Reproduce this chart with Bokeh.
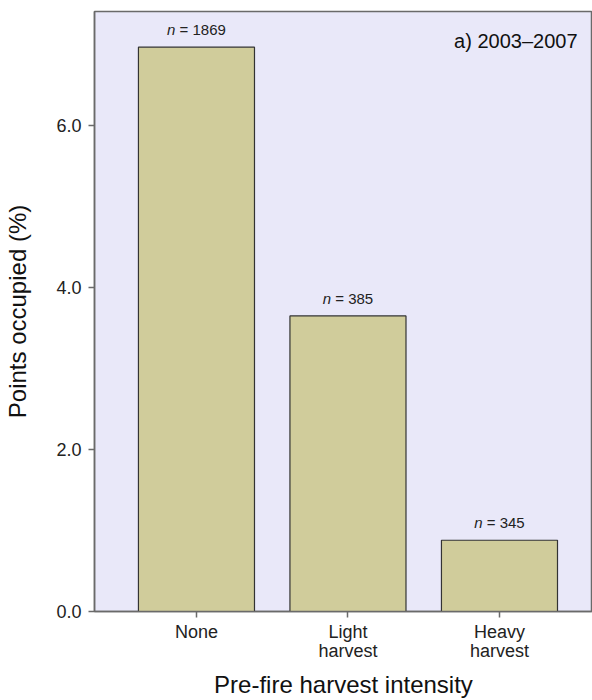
from bokeh.plotting import figure
from bokeh.models import FixedTicker, Label, ColumnDataSource
from bokeh.core.properties import value
from bokeh.embed import file_html
from bokeh.resources import INLINE

# ---- data ----
categories = ["None", "Light\nharvest", "Heavy\nharvest"]
positions = [1, 2, 3]
occupied_pct = [6.97, 3.65, 0.88]
n_points = [1869, 385, 345]
y_ticks = [0, 2, 4, 6]
y_tick_labels = ["0.0", "2.0", "4.0", "6.0"]
panel_label = "a) 2003\u20132007"

FONT = "Liberation Sans"
BG = "#E9E8F9"
BAR = "#D0CC9B"
AX = "#6a6a6a"

# annotation: italic "n" + upright "= N", approximate text widths at 15px
ann_px = 15
NB = "\u00a0"
dig_w, sp_w, eq_w, n_w = 0.556 * ann_px, 0.278 * ann_px, 0.584 * ann_px, 0.556 * ann_px
rest_text = [NB + "=" + NB + str(n) for n in n_points]
split_off = []
for n in n_points:
    rest_w = sp_w + eq_w + sp_w + dig_w * len(str(n))
    total = n_w + rest_w
    split_off.append(-total / 2 + n_w)

src = ColumnDataSource(dict(x=positions, top=occupied_pct, rest=rest_text,
                            nn=["n"] * len(n_points), off=split_off))

p = figure(width=592, height=700, x_range=(0.327, 3.614), y_range=(0, 7.41),
           output_backend="svg", toolbar_location=None,
           min_border_left=94, min_border_right=0, min_border_top=11, min_border_bottom=89)

p.background_fill_color = BG
p.border_fill_color = "white"
p.outline_line_color = AX
p.outline_line_width = 1.5
p.grid.visible = False

p.vbar(x="x", top="top", bottom=0, width=0.766, source=src,
       fill_color=BAR, line_color="#333333", line_width=1.2)

p.text(x="x", y="top", text="nn", source=src, x_offset="off", y_offset=-9,
       text_font=value(FONT), text_font_style="italic", text_font_size="%dpx" % ann_px,
       text_color="#222222", text_align="right", text_baseline="bottom")
p.text(x="x", y="top", text="rest", source=src, x_offset="off", y_offset=-9,
       text_font=value(FONT), text_font_size="%dpx" % ann_px,
       text_color="#222222", text_align="left", text_baseline="bottom")

p.add_layout(Label(x=3.515, y=7.05, text=panel_label, text_font=FONT,
                   text_font_size="20px", text_color="#111111",
                   text_align="right", text_baseline="middle"))

# axes
p.xaxis.ticker = FixedTicker(ticks=positions)
p.xaxis.major_label_overrides = {pos: lab for pos, lab in zip(positions, categories)}
p.yaxis.ticker = FixedTicker(ticks=y_ticks)
p.yaxis.major_label_overrides = {t: lab for t, lab in zip(y_ticks, y_tick_labels)}

for ax in (p.xaxis, p.yaxis):
    ax.axis_line_color = AX
    ax.axis_line_width = 1.5
    ax.major_tick_line_color = AX
    ax.major_tick_line_width = 1.5
    ax.major_tick_out = 6
    ax.major_tick_in = 0
    ax.minor_tick_line_color = None
    ax.major_label_text_font = FONT
    ax.major_label_text_font_size = "18px"
    ax.major_label_text_color = "#222222"
    ax.axis_label_text_font = FONT
    ax.axis_label_text_font_style = "normal"
    ax.axis_label_text_color = "#111111"
    ax.axis_label_text_font_size = "24px"

p.xaxis.axis_label = "Pre-fire harvest intensity"
p.xaxis.major_label_text_line_height = 0.95
p.xaxis.major_label_standoff = 4
p.xaxis.axis_label_standoff = 7

p.yaxis.axis_label = "Points occupied (%)"
p.yaxis.major_label_standoff = 7
p.yaxis.axis_label_standoff = 22

open("out.html", "w").write(file_html(p, INLINE))
